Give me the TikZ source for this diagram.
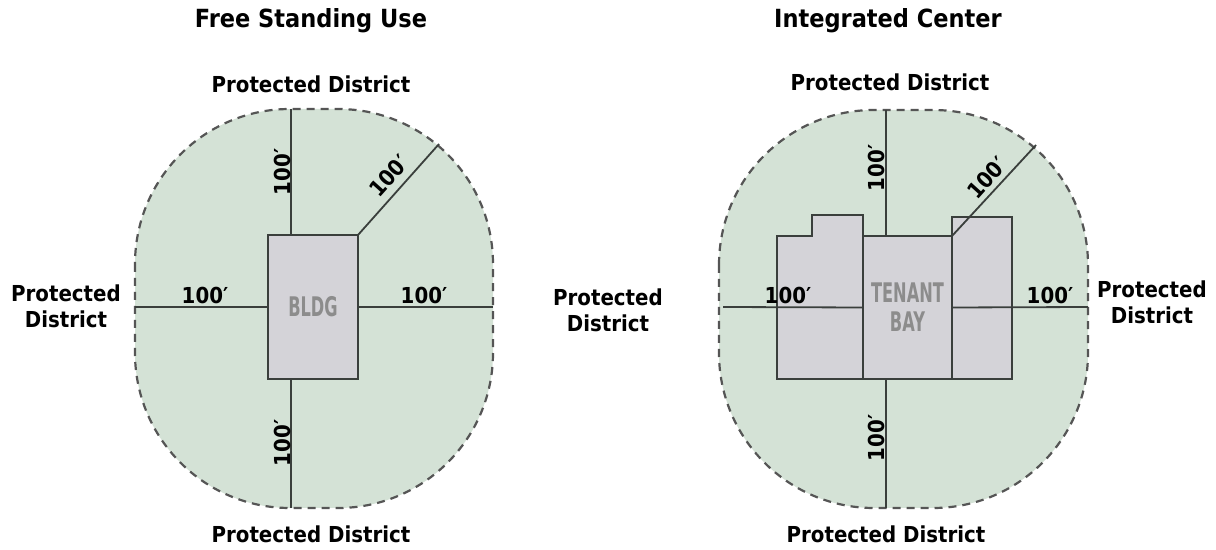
\documentclass[tikz,border=0pt]{standalone}
\usepackage{fontspec}
\newfontfamily\labfont{DejaVu Sans Bold}[FakeStretch=0.9]
\newfontfamily\bldfont{DejaVu Sans Bold}[FakeStretch=0.6]
\definecolor{zonefill}{HTML}{D4E2D6}
\definecolor{bayfill}{HTML}{D4D3D8}
\definecolor{ink}{HTML}{3A3F3C}
\definecolor{edgegrey}{HTML}{555555}
\definecolor{bldtxt}{HTML}{8C8C8C}
\begin{document}
\begin{tikzpicture}[x=0.5pt,y=-0.5pt,
  zone/.style={fill=zonefill, draw=edgegrey, dash pattern=on 4pt off 3pt, line width=1.1pt, rounded corners=77.5pt},
  baybox/.style={draw=ink, fill=bayfill, line width=0.9pt},
  baynode/.style={baybox, inner sep=0, outer sep=0, text=bldtxt, font=\bldfont\fontsize{13.5}{14.5}\selectfont, align=center},
  dimline/.style={draw=ink, line width=0.9pt},
  dimlab/.style={inner sep=0, font=\labfont\fontsize{11}{13}\selectfont},
  titlelab/.style={inner sep=0, anchor=base, font=\labfont\fontsize{12.5}{14}\selectfont},
  distlab/.style={inner sep=0, font=\labfont\fontsize{11}{13}\selectfont, align=center}]
\useasboundingbox (0,0) rectangle (1216,550);
\fill[white] (0,0) rectangle (1216,550);

% ---------- Free Standing Use ----------
\draw[zone] (135,109) rectangle (493,508);
\coordinate (lw) at (135,307);
\coordinate (le) at (493,307);
\coordinate (ln) at (291,109);
\coordinate (ls) at (291,508);
\coordinate (ld) at (439,144);
\node[baynode, minimum width=45pt, minimum height=72pt] (bldg) at (313,307) {BLDG};
\draw[dimline] (lw) -- (bldg.west);
\draw[dimline] (bldg.east) -- (le);
\draw[dimline] (ln) -- (ln |- bldg.north);
\draw[dimline] (ls) -- (ls |- bldg.south);
\draw[dimline] (bldg.north east) -- (ld);
\node[dimlab] (l100w) at (205,295) {100′};
\node[dimlab] (l100e) at (424,295) {100′};
\node[dimlab, rotate=90] (l100n) at (282,172) {100′};
\node[dimlab, rotate=90] (l100s) at (282,443) {100′};
\node[dimlab, rotate=48] (l100d) at (389,176) {100′};

% ---------- Integrated Center ----------
\draw[zone] (719,110) rectangle (1088,508);
\coordinate (rw) at (723,307);
\coordinate (re) at (1088,307);
\coordinate (rn) at (886,110);
\coordinate (rs) at (886,508);
\coordinate (rd) at (1036,145);
\draw[baybox] (777,236) -- (812,236) -- (812,215) -- (863,215) -- (863,379) -- (777,379) -- cycle;
\draw[baybox] (952,217) rectangle (1012,379);
\node[baynode, minimum width=44.5pt, minimum height=71.5pt] (tenant) at (907.5,307.5) {TENANT\\BAY};
\draw[dimline] (rw) -- (tenant.west);
\draw[dimline] (tenant.east) -- (re);
\draw[dimline] (rn) -- (rn |- tenant.north);
\draw[dimline] (rs) -- (rs |- tenant.south);
\draw[dimline] (tenant.north east) -- (rd);
\node[dimlab] (r100w) at (788,295) {100′};
\node[dimlab] (r100e) at (1050,295) {100′};
\node[dimlab, rotate=90] (r100n) at (876,168) {100′};
\node[dimlab, rotate=90] (r100s) at (876,438) {100′};
\node[dimlab, rotate=48] (r100d) at (987,178) {100′};

% ---------- titles and districts ----------
\node[titlelab] (t1) at (311,28) {Free Standing Use};
\node[titlelab] (t2) at (888,28) {Integrated Center};
\node[titlelab, font=\labfont\fontsize{11}{13}\selectfont] (pdln) at (311,93) {Protected District};
\node[titlelab, font=\labfont\fontsize{11}{13}\selectfont] (pdls) at (311,543) {Protected District};
\node[titlelab, font=\labfont\fontsize{11}{13}\selectfont] (pdrn) at (890,91) {Protected District};
\node[titlelab, font=\labfont\fontsize{11}{13}\selectfont] (pdrs) at (886,543) {Protected District};
\node[distlab] (pdw) at (66,306) {Protected\\District};
\node[distlab] (pdm) at (608,310) {Protected\\District};
\node[distlab] (pde) at (1152,302) {Protected\\District};
\end{tikzpicture}
\end{document}
